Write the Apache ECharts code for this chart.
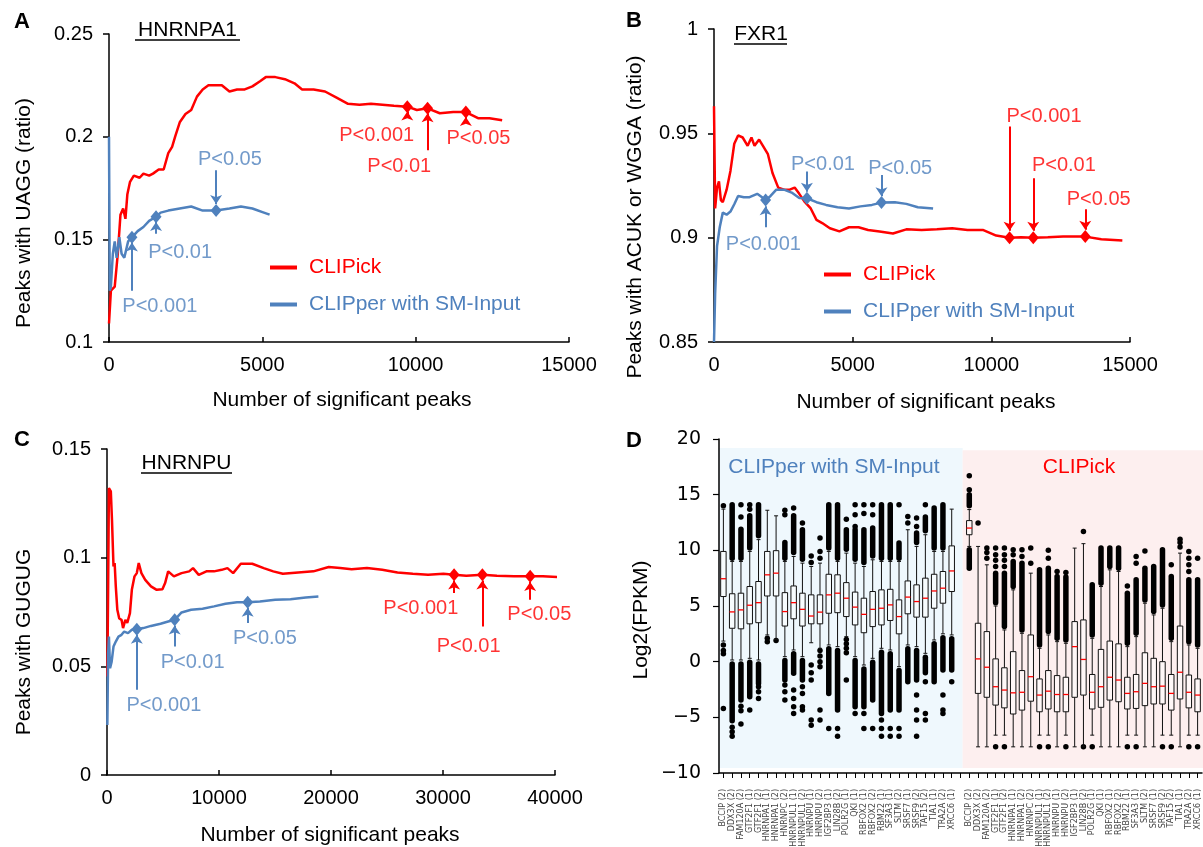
<!DOCTYPE html>
<html><head><meta charset="utf-8">
<script src="https://cdn.jsdelivr.net/npm/echarts@6/dist/echarts.min.js"></script>
<style>html,body{margin:0;padding:0;background:#fff}#c{width:1203px;height:847px}</style>
</head><body><div id="c"></div>
<script>
// ---------------- DATA ----------------
// Panel A: HNRNPA1
const redA = [[0,0.109],[62,0.125],[187,0.127],[287,0.143],[374,0.162],[461,0.165],[536,0.160],[599,0.172],[686,0.178],[810,0.181],[998,0.180],[1122,0.182],[1309,0.181],[1434,0.182],[1621,0.184],[1783,0.184],[1933,0.192],[2058,0.195],[2157,0.200],[2307,0.207],[2494,0.211],[2681,0.213],[2868,0.2195],[3055,0.223],[3242,0.225],[3429,0.225],[3679,0.225],[3928,0.222],[4177,0.223],[4426,0.223],[4676,0.2245],[4925,0.227],[5112,0.229],[5424,0.229],[5736,0.228],[6048,0.226],[6297,0.223],[6671,0.223],[7045,0.222],[7420,0.219],[7794,0.216],[8168,0.2155],[8542,0.216],[8916,0.2155],[9290,0.215],[9727,0.2146],[10039,0.213],[10388,0.2138],[10787,0.2114],[11224,0.212],[11636,0.212],[12034,0.209],[12408,0.209],[12820,0.208]];
const blueA = [[0,0.2],[25,0.125],[62,0.127],[125,0.143],[187,0.149],[249,0.141],[337,0.151],[411,0.143],[499,0.141],[624,0.149],[748,0.151],[935,0.154],[1122,0.156],[1309,0.159],[1534,0.161],[1683,0.163],[1933,0.164],[2307,0.165],[2681,0.166],[3055,0.164],[3492,0.164],[3928,0.165],[4302,0.166],[4676,0.165],[5050,0.163],[5237,0.162]];
const sigRedA = [[9727,0.2146],[10388,0.2138],[11636,0.212]];
const sigBlueA = [[748,0.151],[1534,0.161],[3492,0.164]];
const arrowRedA = [[9727,0.2097,0.2122],[10388,0.1934,0.2114],[11636,0.2068,0.2096]];   // [x, tail, head]
const arrowBlueA = [[748,0.125,0.1485],[1534,0.1527,0.1585],[3492,0.1837,0.1672]];
const labelRedA = [[8729,0.2008,'P<0.001'],[9465,0.1853,'P<0.01'],[12046,0.1991,'P<0.05']];
const labelBlueA = [[1658,0.1172,'P<0.001'],[2320,0.1434,'P<0.01'],[3941,0.1889,'P<0.05']];

// Panel B: FXR1
const redB = [[0,0.963],[41,0.914],[110,0.924],[179,0.927],[248,0.918],[317,0.917],[455,0.923],[593,0.932],[731,0.945],[869,0.949],[1034,0.948],[1213,0.944],[1351,0.948],[1461,0.944],[1627,0.947],[1765,0.944],[1944,0.940],[2109,0.931],[2316,0.924],[2523,0.923],[2730,0.923],[2909,0.924],[3074,0.921],[3281,0.917],[3488,0.914],[3695,0.9085],[3902,0.907],[4178,0.9045],[4522,0.903],[4867,0.905],[5212,0.905],[5556,0.9037],[5970,0.903],[6452,0.902],[6935,0.904],[7486,0.9037],[8038,0.904],[8589,0.9045],[9141,0.9037],[9692,0.9037],[10175,0.901],[10657,0.900],[11071,0.9002],[11512,0.900],[12036,0.9002],[12588,0.9005],[13387,0.9005],[13966,0.8992],[14724,0.8986]];
const blueB = [[0,0.85],[41,0.873],[110,0.896],[207,0.905],[317,0.912],[455,0.911],[593,0.9125],[731,0.916],[869,0.920],[1075,0.9194],[1282,0.9194],[1558,0.921],[1696,0.9197],[1861,0.918],[2040,0.920],[2247,0.923],[2523,0.923],[2799,0.9216],[3074,0.919],[3350,0.9189],[3695,0.917],[4040,0.9157],[4453,0.9146],[4867,0.914],[5281,0.915],[5694,0.9157],[6039,0.9168],[6521,0.917],[6935,0.9162],[7349,0.9146],[7900,0.914]];
const sigRedB = [[10657,0.900],[11512,0.900],[13387,0.9005]];
const sigBlueB = [[1861,0.918],[3350,0.9189],[6039,0.9168]];
const arrowRedB = [[10657,0.9533,0.9033],[11512,0.9285,0.9033],[13387,0.9136,0.9038]];
const arrowBlueB = [[1861,0.905,0.9150],[3350,0.9317,0.9220],[6039,0.930,0.9199]];
const labelRedB = [[11898,0.9581,'P<0.001'],[12615,0.9346,'P<0.01'],[13870,0.9184,'P<0.05']];
const labelBlueB = [[1779,0.8965,'P<0.001'],[3929,0.9352,'P<0.01'],[6714,0.9333,'P<0.05']];

// Panel C: HNRNPU
const redC = [[30,0.0453],[102,0.0868],[171,0.132],[341,0.1305],[444,0.1175],[580,0.096],[683,0.0975],[785,0.0868],[922,0.076],[1092,0.072],[1297,0.0714],[1433,0.0676],[1638,0.0714],[1809,0.070],[2048,0.0745],[2218,0.0852],[2457,0.0914],[2662,0.0929],[2833,0.0975],[3072,0.0929],[3413,0.0898],[3925,0.0868],[4437,0.0852],[4949,0.0855],[5188,0.0883],[5461,0.0937],[5973,0.0914],[6655,0.0929],[7338,0.0937],[7680,0.0952],[8191,0.0921],[8874,0.0937],[9556,0.0937],[10239,0.0944],[10751,0.0952],[11263,0.0929],[11946,0.0972],[12969,0.0972],[13993,0.0952],[14847,0.0937],[15700,0.0926],[17065,0.0932],[18430,0.0937],[19795,0.0957],[20819,0.0952],[21843,0.0947],[23208,0.0952],[24574,0.0944],[25939,0.0932],[27304,0.0926],[28669,0.0921],[30034,0.0926],[30990,0.0921],[32082,0.0917],[33516,0.0921],[34813,0.0917],[36349,0.0914],[37782,0.0914],[38909,0.0914],[40445,0.091]];
const blueC = [[30,0.023],[102,0.056],[171,0.0637],[273,0.0491],[410,0.052],[580,0.0591],[785,0.0614],[1024,0.0637],[1297,0.0645],[1536,0.066],[1877,0.0653],[2218,0.0668],[2662,0.0671],[3242,0.0676],[3925,0.0686],[4778,0.0696],[5461,0.0706],[6041,0.0714],[6655,0.0748],[7509,0.076],[8533,0.0765],[9556,0.0776],[10580,0.0788],[11604,0.0795],[12560,0.0795],[13652,0.0798],[15017,0.0806],[16382,0.0809],[17747,0.0817],[18874,0.0821]];
const sigRedC = [[30990,0.0921],[33516,0.0921],[37782,0.0914]];
const sigBlueC = [[2662,0.0671],[6041,0.0714],[12560,0.0795]];
const arrowRedC = [[30990,0.0837,0.0895],[33516,0.0683,0.0895],[37782,0.0806,0.0888]];
const arrowBlueC = [[2662,0.0392,0.0645],[6041,0.0591,0.0688],[12560,0.0699,0.0769]];
const labelRedC = [[28021,0.0768,'P<0.001'],[32287,0.0591,'P<0.01'],[38601,0.0737,'P<0.05']];
const labelBlueC = [[5085,0.0318,'P<0.001'],[7645,0.0519,'P<0.01'],[14096,0.063,'P<0.05']];

// Panel D: expression boxplots
const genes = ['BCCIP (2)','DDX3X (2)','FAM120A (2)','GTF2F1 (1)','GTF2F1 (2)','HNRNPA1 (1)','HNRNPA1 (2)','HNRNPC (2)','HNRNPUL1 (1)','HNRNPUL1 (2)','HNRNPU (1)','HNRNPU (2)','IGF2BP3 (1)','LIN28B (2)','POLR2G (1)','QKI (1)','RBFOX2 (1)','RBFOX2 (2)','RBM22 (1)','SF3A3 (1)','SLTM (2)','SRSF7 (1)','SRSF9 (2)','TAF15 (2)','TIA1 (1)','TRA2A (2)','XRCC6 (1)'];
const dCategories = genes.concat([''], genes);
// [lowWhisker, Q1, median, Q3, highWhisker]
const clipperBox = [[1.85,5.85,7.45,9.9,13.7],[0.15,3.0,4.47,6.1,9.0],[0.15,2.95,4.65,6.15,9.0],[0.3,3.4,5.07,6.75,9.9],[0.15,3.5,5.3,7.2,10.96],[2.4,5.9,7.8,9.9,13.6],[2.0,5.9,7.95,9.97,13.1],[0.45,3.2,4.5,6.2,9.0],[1.05,3.85,5.3,6.8,9.45],[0.45,3.2,4.7,6.15,8.85],[1.7,3.4,4.1,6.0,8.55],[1.2,3.4,4.45,6.0,8.85],[1.5,4.35,6.0,7.85,9.9],[1.35,4.4,6.15,7.8,9.0],[2.25,4.05,5.7,7.1,9.75],[0.45,3.3,4.9,6.25,8.85],[-0.3,2.6,4.25,5.7,8.55],[0.3,3.15,4.7,6.3,9.15],[1.2,3.3,4.8,6.45,9.0],[1.05,3.7,5.1,6.5,9.0],[-0.45,2.5,4.05,5.55,9.0],[1.5,4.3,5.8,7.25,11.85],[1.35,4.0,5.4,6.9,10.35],[0.75,4.0,5.7,7.5,11.4],[1.95,4.8,6.35,7.85,9.9],[2.5,5.25,6.6,8.1,9.9],[2.4,6.3,8.15,10.4,13.7]];
const clipickBox = [[10.35,11.4,12.0,12.67,13.66],[-7.65,-2.85,0.25,3.45,10.35],[-7.65,-3.2,-0.5,2.7,8.7],[-6.6,-3.9,-2.25,0.25,5.0],[-6.6,-4.15,-2.55,-0.55,2.85],[-7.65,-4.7,-2.8,0.9,6.45],[-7.65,-4.35,-2.75,-0.8,2.55],[-7.65,-3.55,-1.35,2.4,7.95],[-6.6,-4.5,-3.0,-1.55,1.2],[-6.6,-4.25,-2.65,-0.8,2.4],[-7.65,-4.5,-2.95,-1.25,1.8],[-6.6,-4.5,-2.95,-1.4,1.65],[-7.65,-3.2,1.35,3.6,10.2],[-7.65,-3.0,0.2,3.75,10.6],[-6.6,-4.25,-2.75,-1.15,2.1],[-7.65,-4.1,-2.25,1.1,6.75],[-7.65,-3.45,-1.4,1.85,8.25],[-7.65,-3.6,-1.65,1.6,8.1],[-6.6,-4.25,-2.85,-1.4,1.35],[-6.6,-4.2,-2.7,-1.15,2.25],[-7.65,-3.95,-1.95,0.8,5.25],[-7.65,-3.8,-2.25,0.3,4.2],[-6.6,-3.8,-2.2,0.0,4.8],[-6.6,-4.35,-2.85,-1.15,1.8],[-7.65,-3.35,-0.95,3.2,9.75],[-6.6,-4.15,-2.75,-1.2,1.5],[-6.6,-4.5,-3.0,-1.55,1.2]];
// dense outlier runs [boxIndex, from, to]
const clipperDense = [[1,9.3,14.1],[1,-5.3,-0.2],[2,9.3,11.9],[2,-3.45,-0.2],[3,10.2,13.1],[3,-3.15,-0.05],[4,11.3,14.1],[4,-1.95,-0.2],[7,9.3,10.7],[7,-1.65,0.1],[8,9.8,13.1],[8,-1.05,0.7],[9,9.2,11.85],[9,-1.65,0.1],[12,10.2,14.1],[12,-2.85,1.15],[13,9.3,14.1],[13,-4.35,1.0],[14,10.1,11.85],[15,9.2,11.85],[15,-4.05,0.1],[16,8.9,11.85],[16,-4.05,-0.65],[17,9.5,12.0],[17,-3.45,-0.05],[18,9.3,14.1],[18,-4.65,0.85],[19,9.3,14.1],[19,-4.35,0.7],[20,9.3,10.65],[20,-4.35,-0.8],[21,-1.8,1.15],[22,10.7,11.55],[22,-1.65,1.0],[23,11.75,13.0],[23,-1.0,0.4],[24,10.2,13.8],[24,-1.8,1.6],[25,10.2,14.1],[25,-0.75,2.15],[26,-0.75,2.05]];
const clipickDense = [[0,14.0,15.0],[0,8.4,10.05],[3,5.3,7.95],[4,3.15,7.95],[5,6.75,9.0],[6,2.85,8.85],[8,1.5,8.25],[9,2.7,8.4],[10,2.1,7.65],[11,1.95,7.6],[14,2.4,6.9],[15,7.05,10.2],[16,8.55,10.2],[17,8.4,10.2],[18,1.65,6.15],[19,2.55,7.35],[20,5.55,8.4],[21,4.5,8.55],[22,5.1,10.05],[23,2.1,7.65],[25,1.8,7.35],[26,1.5,7.35]];
// isolated outliers [boxIndex, value]
const clipperDots = [[0,14.0],[0,1.5],[0,1.0],[0,0.7],[0,-4.2],[1,-5.9],[1,-6.3],[1,-6.7],[2,13.0],[2,14.1],[2,-4.0],[2,-4.4],[2,-5.6],[3,13.7],[3,14.1],[3,-4.35],[4,-2.25],[4,-2.7],[4,-3.3],[5,2.1],[5,1.8],[6,1.9],[7,13.2],[7,13.6],[7,-2.1],[7,-2.7],[7,-3.45],[8,13.8],[8,-2.55],[8,-3.3],[8,-4.05],[8,-4.65],[9,12.45],[9,-2.25],[9,-2.85],[9,-4.05],[9,-4.35],[10,8.9],[10,9.5],[10,-0.3],[10,-1.0],[10,-1.65],[10,-5.25],[10,-5.7],[11,9.3],[11,9.9],[11,11.1],[11,1.0],[11,0.5],[11,0.0],[11,-0.45],[11,-4.35],[11,-5.25],[12,-6.0],[13,-6.0],[13,-6.7],[14,12.8],[14,2.0],[14,1.6],[14,1.2],[14,0.8],[14,-1.65],[15,12.15],[15,13.2],[15,14.1],[15,-4.65],[16,13.3],[16,14.1],[16,-4.65],[16,-6.0],[17,13.2],[17,14.1],[17,-6.0],[18,-5.25],[18,-6.0],[18,-6.7],[19,-6.0],[19,-6.7],[20,14.1],[20,-6.0],[20,-6.7],[21,12.45],[21,13.05],[22,12.15],[22,12.9],[22,-3.0],[22,-4.35],[22,-5.25],[22,-6.7],[23,14.1],[23,-1.8],[23,-4.65],[23,-5.25],[25,-3.0],[25,-4.35],[25,-4.65],[26,-1.8]];
const clipickDots = [[0,16.7],[0,15.45],[1,12.45],[2,9.3],[2,9.8],[2,10.2],[3,8.55],[3,9.1],[3,9.6],[3,10.2],[3,-7.65],[4,8.55],[4,9.1],[4,9.6],[4,10.2],[4,-7.65],[5,9.6],[5,10.05],[6,9.45],[6,10.05],[7,8.85],[7,10.2],[8,-7.65],[9,9.3],[9,10.0],[9,-7.65],[10,8.1],[11,8.0],[11,-7.65],[13,11.7],[13,-7.65],[14,-7.65],[18,6.8],[18,-7.65],[19,8.85],[19,9.45],[19,-7.65],[20,9.95],[22,-7.65],[23,8.7],[23,-7.65],[24,10.3],[24,10.7],[24,11.0],[25,8.1],[25,8.7],[25,9.3],[25,9.9],[25,-7.65],[26,9.3],[26,-7.65]];
const dTickLabels = ['20','15','10','5','0','\u22125','\u221210'];

// ---------------- CHART ----------------
const RED = '#ff0000', BLUE = '#4f81bd', FONT = 'Liberation Sans';
const OFFSET = genes.length + 1;
const chart = echarts.init(document.getElementById('c'), null, {renderer: 'canvas'});

function valAxis(i, min, max, interval, isX) {
  return {
    type: 'value', gridIndex: i, min, max, interval,
    axisLine: {show: true, onZero: false, lineStyle: {color: '#000', width: 1.5}},
    axisTick: {show: true, inside: !!isX, length: isX ? 5 : 6, lineStyle: {color: '#000', width: 1.5}},
    axisLabel: {show: true, showMinLabel: true, showMaxLabel: true, margin: isX ? 13 : 16, color: '#000', fontSize: 20, fontFamily: FONT, formatter: v => String(+v.toFixed(4))},
    splitLine: {show: false}
  };
}

function panelSeries(i, red, blue, sigR, sigB, arrR, arrB, labR, labB) {
  const common = {xAxisIndex: i, yAxisIndex: i, silent: true, emphasis: {disabled: true}};
  const out = [];
  out.push(Object.assign({type: 'line', name: 'CLIPick', data: red, showSymbol: false, symbol: 'none', clip: false,
    lineStyle: {color: RED, width: 2.5}, itemStyle: {color: RED}, z: 3}, common));
  out.push(Object.assign({type: 'line', name: 'CLIPper with SM-Input', data: blue, showSymbol: false, symbol: 'none', clip: false,
    lineStyle: {color: BLUE, width: 2.5}, itemStyle: {color: BLUE}, z: 3}, common));
  [[arrR, RED], [arrB, BLUE]].forEach(([arr, col]) => {
    out.push(Object.assign({type: 'lines', coordinateSystem: 'cartesian2d',
      data: arr.map(a => ({coords: [[a[0], a[1]], [a[0], a[2]]]})),
      symbol: ['none', 'arrow'], symbolSize: 9,
      lineStyle: {color: col, width: 2, opacity: 1, curveness: 0}, z: 4}, common));
  });
  [[sigR, RED], [sigB, BLUE]].forEach(([sig, col]) => {
    out.push(Object.assign({type: 'scatter', data: sig, symbol: 'diamond', symbolSize: [11, 13],
      itemStyle: {color: col, opacity: 1}, z: 5}, common));
  });
  [[labR, RED], [labB, BLUE]].forEach(([lab, col]) => {
    out.push(Object.assign({type: 'scatter', data: lab.map(l => ({name: l[2], value: [l[0], l[1]]})),
      symbolSize: 0, itemStyle: {color: 'rgba(0,0,0,0)'},
      label: {show: true, position: 'inside', formatter: '{b}', color: col, fontSize: 20, fontFamily: FONT}, z: 6}, common));
  });
  return out;
}

const bgBands = [[0, -0.55, 27.25, 19.2, -9.55], [0, 27.25, 56, 19.0, -9.55]];
const bgColors = ['#eff8fd', '#fdefef'];

const dCommon = {xAxisIndex: 3, yAxisIndex: 3, silent: true, emphasis: {disabled: true}};
const dSeries = [
  Object.assign({type: 'custom', data: bgBands, encode: {x: 0, y: [3, 4]}, z: 0,
    renderItem: (params, api) => {
      const band = api.size([1, 0])[0];
      const top = api.coord([0, api.value(3)]), bot = api.coord([0, api.value(4)]);
      const x1 = top[0] + api.value(1) * band, x2 = top[0] + api.value(2) * band;
      return {type: 'rect', shape: {x: x1, y: top[1], width: x2 - x1, height: bot[1] - top[1]}, style: {fill: bgColors[params.dataIndex]}};
    }}, dCommon),
  Object.assign({type: 'custom', z: 1, encode: {x: 0, y: [1, 2]},
    data: clipperDense.map(d => [d[0], d[1], d[2]]).concat(clipickDense.map(d => [d[0] + OFFSET, d[1], d[2]])),
    renderItem: (params, api) => {
      const a = api.coord([api.value(0), api.value(1)]), b = api.coord([api.value(0), api.value(2)]);
      return {type: 'line', shape: {x1: a[0], y1: a[1], x2: b[0], y2: b[1]}, style: {stroke: '#000', lineWidth: 5.5, lineCap: 'round'}};
    }}, dCommon),
  Object.assign({type: 'scatter', z: 2, symbolSize: 5.5, itemStyle: {color: '#000', opacity: 1},
    data: clipperDots.map(d => [d[0], d[1]]).concat(clipickDots.map(d => [d[0] + OFFSET, d[1]]))}, dCommon),
  Object.assign({type: 'custom', z: 3, encode: {x: 0, y: [1, 5]},
    data: clipperBox.map((b, i) => [i].concat(b)).concat(clipickBox.map((b, i) => [i + OFFSET].concat(b))),
    renderItem: (params, api) => {
      const x = api.value(0);
      const band = api.size([1, 0])[0];
      const bw = band * 0.62, cw = 4;
      const p = [1, 2, 3, 4, 5].map(k => api.coord([x, api.value(k)]));
      const cx = p[0][0];
      const st = {stroke: '#111', lineWidth: 1};
      return {type: 'group', children: [
        {type: 'line', shape: {x1: cx, y1: p[0][1], x2: cx, y2: p[1][1]}, style: st},
        {type: 'line', shape: {x1: cx, y1: p[3][1], x2: cx, y2: p[4][1]}, style: st},
        {type: 'line', shape: {x1: cx - cw / 2, y1: p[0][1], x2: cx + cw / 2, y2: p[0][1]}, style: st},
        {type: 'line', shape: {x1: cx - cw / 2, y1: p[4][1], x2: cx + cw / 2, y2: p[4][1]}, style: st},
        {type: 'rect', shape: {x: cx - bw / 2, y: p[3][1], width: bw, height: p[1][1] - p[3][1]}, style: {fill: 'rgba(255,255,255,0.5)', stroke: '#111', lineWidth: 1}},
        {type: 'line', shape: {x1: cx - bw / 2, y1: p[2][1], x2: cx + bw / 2, y2: p[2][1]}, style: {stroke: RED, lineWidth: 1.3}}
      ]};
    }}, dCommon)
];

function T(x, y, text, size, color, extra) {
  return Object.assign({type: 'text', x, y, silent: true, z: 100,
    style: {text, fill: color || '#000', font: (extra && extra.bold ? 'bold ' : '') + size + 'px "' + ((extra && extra.family) || FONT) + '"', align: 'center', verticalAlign: 'middle', textAlign: 'center', textVerticalAlign: 'middle'}},
    extra && extra.rot ? {rotation: Math.PI / 2} : {});
}
function U(x1, x2, y) {
  return {type: 'line', silent: true, z: 100, shape: {x1, y1: y, x2, y2: y}, style: {stroke: '#000', lineWidth: 1.3}};
}

const legendBase = {orient: 'vertical', itemWidth: 27, itemHeight: 4, itemGap: 16, icon: 'rect', padding: 0, selectedMode: false,
  textStyle: {fontSize: 21, fontFamily: FONT, lineHeight: 21, padding: [0, 0, 0, 7]},
  data: [{name: 'CLIPick', textStyle: {color: RED}}, {name: 'CLIPper with SM-Input', textStyle: {color: BLUE}}]};

const option = {
  animation: false,
  backgroundColor: '#fff',
  grid: [
    {left: 109, top: 34, width: 460, height: 308, containLabel: false, outerBoundsMode: 'none'},
    {left: 714, top: 29, width: 416, height: 313, containLabel: false, outerBoundsMode: 'none'},
    {left: 107, top: 449, width: 448, height: 326, containLabel: false, outerBoundsMode: 'none'},
    {left: 719, top: 439, width: 483, height: 334, containLabel: false, outerBoundsMode: 'none'}
  ],
  legend: [
    Object.assign({}, legendBase, {left: 270, top: 257}),
    Object.assign({}, legendBase, {left: 824, top: 264})
  ],
  xAxis: [
    valAxis(0, 0, 15000, 5000, true),
    valAxis(1, 0, 15000, 5000, true),
    valAxis(2, 0, 40000, 10000, true),
    {type: 'category', gridIndex: 3, data: dCategories, boundaryGap: true,
      axisLine: {show: true, onZero: false, lineStyle: {color: '#000', width: 1.5}},
      axisTick: {show: true, alignWithLabel: true, interval: 0, length: 5, lineStyle: {color: '#000', width: 1}},
      axisLabel: {show: true, interval: 0, rotate: 90, margin: 16, fontSize: 8, fontFamily: 'DejaVu Sans', color: '#444'},
      splitLine: {show: false}}
  ],
  yAxis: [
    valAxis(0, 0.1, 0.25, 0.05, false),
    valAxis(1, 0.85, 1, 0.05, false),
    valAxis(2, 0, 0.15, 0.05, false),
    {type: 'value', gridIndex: 3, min: -10, max: 20, interval: 5,
      axisLine: {show: true, onZero: false, lineStyle: {color: '#000', width: 1.5}},
      axisTick: {show: true, length: 6, lineStyle: {color: '#000', width: 1.2}},
      axisLabel: {show: true, showMinLabel: true, showMaxLabel: true, margin: 18, fontSize: 19, fontFamily: 'DejaVu Sans', color: '#000',
        formatter: v => dTickLabels[(20 - v) / 5]},
      splitLine: {show: false}}
  ],
  series: [].concat(
    panelSeries(0, redA, blueA, sigRedA, sigBlueA, arrowRedA, arrowBlueA, labelRedA, labelBlueA),
    panelSeries(1, redB, blueB, sigRedB, sigBlueB, arrowRedB, arrowBlueB, labelRedB, labelBlueB),
    panelSeries(2, redC, blueC, sigRedC, sigBlueC, arrowRedC, arrowBlueC, labelRedC, labelBlueC),
    dSeries
  ),
  graphic: [
    T(22, 22, 'A', 22, '#000', {bold: true}),
    T(634, 21, 'B', 22, '#000', {bold: true}),
    T(22, 440, 'C', 22, '#000', {bold: true}),
    T(634, 441, 'D', 22, '#000', {bold: true}),
    T(187.5, 30, 'HNRNPA1', 21), U(135, 240, 40),
    T(761, 34, 'FXR1', 21), U(734, 787, 44),
    T(186.5, 463, 'HNRNPU', 21), U(141, 232, 473),
    T(342, 400, 'Number of significant peaks', 21),
    T(926, 402, 'Number of significant peaks', 21),
    T(330, 835, 'Number of significant peaks', 21),
    T(24, 213, 'Peaks with UAGG (ratio)', 21, '#000', {rot: true}),
    T(635, 217, 'Peaks with ACUK or WGGA (ratio)', 21, '#000', {rot: true}),
    T(24, 642, 'Peaks with GUGUG', 21, '#000', {rot: true}),
    T(641, 620, 'Log2(FPKM)', 21, '#000', {rot: true}),
    T(834, 467, 'CLIPper with SM-Input', 21, BLUE),
    T(1079, 467, 'CLIPick', 21, RED)
  ]
};
chart.setOption(option);
</script>
</body></html>
